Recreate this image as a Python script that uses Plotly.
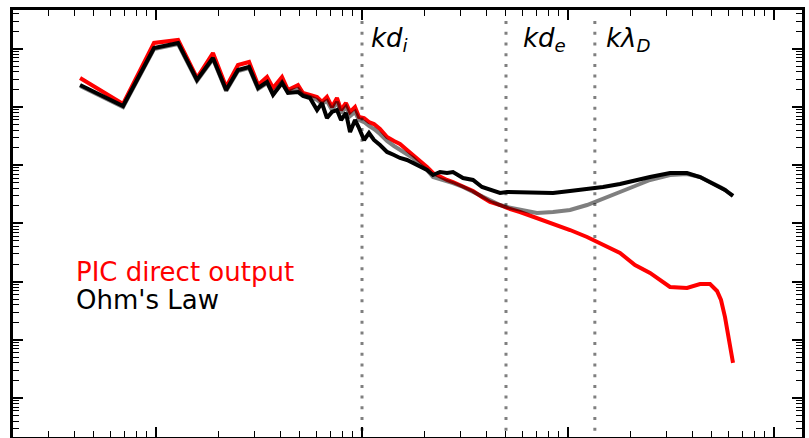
import plotly.graph_objects as go

# Wavenumber k*d_i of each spectral bin
k_di = [0.0428, 0.0692, 0.0978, 0.128, 0.158, 0.189, 0.219, 0.250, 0.283, 0.313,
        0.346, 0.370, 0.409, 0.437, 0.489, 0.517, 0.559, 0.605, 0.639, 0.676,
        0.715, 0.756, 0.791, 0.836, 0.875, 0.925, 0.967, 1.023, 1.081, 1.143,
        1.223, 1.323, 1.430, 1.529, 1.654, 1.768, 1.912, 2.068, 2.211, 2.391,
        2.586, 2.765, 3.093, 3.458, 3.824, 4.182, 4.677, 5.056, 5.848, 7.071,
        8.457, 10.23, 12.37, 14.79, 17.88, 21.15, 25.01, 31.27, 37.82, 43.73,
        48.91, 52.89, 55.30, 57.83, 60.47, 63.24]

# Electric field spectrum taken straight from the PIC run
pic_direct = [3.15e5, 1.13e5, 1.26e6, 1.42e6, 3.15e5, 8.47e5, 2.21e5, 5.27e5, 5.93e5, 2.39e5,
              3.28e5, 2.12e5, 3.28e5, 1.96e5, 2.39e5, 1.74e5, 1.61e5, 1.49e5, 1.22e5, 1.49e5,
              1.00e5, 1.43e5, 8.88e4, 1.17e5, 8.21e4, 1.00e5, 6.73e4, 6.47e4, 5.52e4, 5.10e4,
              4.19e4, 3.05e4, 2.60e4, 2.31e4, 1.82e4, 1.50e4, 1.14e4, 9.31e3, 7.35e3, 6.27e3,
              5.57e3, 5.14e3, 4.39e3, 3.60e3, 2.84e3, 2.33e3, 2.07e3, 1.84e3, 1.57e3, 1.24e3,
              977, 770, 584, 425, 310, 193, 141, 80.8, 77.6, 90.9,
              90.9, 68.9, 48.3, 24.6, 9.92, 4.0]

# Spectrum rebuilt from the full generalized Ohm's law
ohms_law = [2.39e5, 1.04e5, 1.03e6, 1.26e6, 2.91e5, 6.95e5, 1.96e5, 4.32e5, 4.87e5, 2.12e5,
            2.69e5, 1.61e5, 2.58e5, 1.74e5, 1.81e5, 1.55e5, 1.43e5, 8.88e4, 1.17e5, 6.47e4,
            8.21e4, 8.88e4, 5.98e4, 7.89e4, 3.72e4, 5.98e4, 4.36e4, 2.71e4, 3.57e4, 2.71e4,
            2.22e4, 1.69e4, 1.50e4, 1.33e4, 1.23e4, 1.09e4, 9.31e3, 8.27e3, 6.79e3, 7.64e3,
            7.35e3, 7.64e3, 6.03e3, 5.57e3, 4.22e3, 3.75e3, 3.33e3, 3.46e3, 3.46e3, 3.33e3,
            3.33e3, 3.60e3, 3.90e3, 4.22e3, 4.75e3, 5.35e3, 6.27e3, 7.35e3, 7.35e3, 6.27e3,
            5.14e3, 4.57e3, 4.14e3, 3.75e3, 3.33e3, 2.96e3]

# Ohm's law variant (drawn in translucent grey underneath)
ohms_law_alt = [2.30e5, 1.00e5, 9.92e5, 1.21e6, 2.80e5, 6.68e5, 1.88e5, 4.16e5, 4.68e5, 2.04e5,
                2.58e5, 1.67e5, 2.69e5, 1.81e5, 2.04e5, 1.61e5, 1.49e5, 1.32e5, 1.13e5, 1.27e5,
                8.88e4, 1.22e5, 7.89e4, 1.00e5, 7.00e4, 8.21e4, 5.98e4, 5.52e4, 4.72e4, 4.19e4,
                3.44e4, 2.60e4, 2.14e4, 1.82e4, 1.56e4, 1.33e4, 1.01e4, 8.27e3, 6.27e3, 5.79e3,
                5.35e3, 4.94e3, 4.22e3, 3.46e3, 2.84e3, 2.43e3, 2.07e3, 1.91e3, 1.70e3, 1.51e3,
                1.57e3, 1.70e3, 2.07e3, 2.63e3, 3.46e3, 4.39e3, 5.57e3, 6.79e3, 7.06e3, 6.27e3,
                5.14e3, 4.57e3, 4.14e3, 3.75e3, 3.33e3, 2.96e3]

# Characteristic scales marked by vertical dotted lines
scale_k = [1.0, 5.0, 13.5]
scale_labels = ["<i>kd<sub>i</sub></i>", "<i>kd<sub>e</sub></i>", "<i>k\u03bb<sub>D</sub></i>"]

W, H = 809, 438
ML, MR, MT, MB = 13, 7, 10, 1
PW, PH = W - ML - MR, H - MT - MB

fig = go.Figure()
fig.add_trace(go.Scatter(x=k_di, y=pic_direct, mode="lines",
                         line=dict(color="#ff0000", width=4)))
fig.add_trace(go.Scatter(x=k_di, y=ohms_law_alt, mode="lines",
                         line=dict(color="rgba(0,0,0,0.5)", width=4)))
fig.add_trace(go.Scatter(x=k_di, y=ohms_law, mode="lines",
                         line=dict(color="#000000", width=4)))

for kv in scale_k:
    fig.add_shape(type="line", xref="x", yref="paper", x0=kv, x1=kv, y0=0.974, y1=0,
                  line=dict(color="rgba(0,0,0,0.5)", width=3, dash="3px,7.7px"),
                  layer="above")

label_x_px = [369, 521, 604]
for txt, px in zip(scale_labels, label_x_px):
    fig.add_annotation(text=txt, xref="paper", yref="paper",
                       x=(px - ML) / PW, y=(H - MB - 40) / PH,
                       xanchor="left", yanchor="middle", showarrow=False,
                       font=dict(family="DejaVu Sans", size=26, color="black"))

fig.add_annotation(text="PIC direct output", xref="paper", yref="paper",
                   x=(74 - ML) / PW, y=(H - MB - 272) / PH,
                   xanchor="left", yanchor="middle", showarrow=False,
                   font=dict(family="DejaVu Sans", size=26, color="#ff0000"))
fig.add_annotation(text="Ohm's Law", xref="paper", yref="paper",
                   x=(74 - ML) / PW, y=(H - MB - 300) / PH,
                   xanchor="left", yanchor="middle", showarrow=False,
                   font=dict(family="DejaVu Sans", size=26, color="black"))

axis_common = dict(type="log", showgrid=False, zeroline=False, showline=True,
                   linecolor="black", linewidth=2.5, mirror="allticks",
                   ticks="inside", ticklen=10, tickwidth=1.5, tickcolor="black",
                   showticklabels=False, dtick=1,
                   minor=dict(ticks="inside", ticklen=6, tickwidth=1.2,
                              tickcolor="black", showgrid=False))

fig.update_layout(
    width=W, height=H, autosize=False,
    margin=dict(l=ML, r=MR, t=MT, b=MB, pad=0),
    paper_bgcolor="white", plot_bgcolor="white",
    showlegend=False,
    xaxis=dict(range=[-1.6942, 2.1359], **axis_common),
    yaxis=dict(range=[-0.6701, 6.6667], **axis_common),
)

fig.write_html("out.html")
